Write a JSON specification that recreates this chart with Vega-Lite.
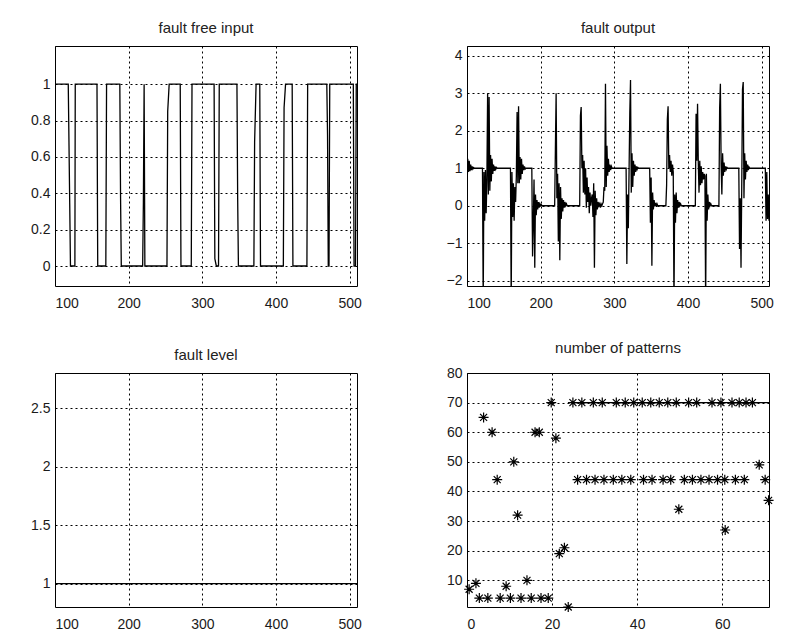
{
  "$schema": "https://vega.github.io/schema/vega-lite/v6.json",
  "background": "white",
  "padding": {"left": 30, "top": 20, "right": 5, "bottom": 5},
  "bounds": "flush",
  "columns": 2,
  "spacing": {"row": 87, "column": 110},
  "config": {
    "view": {"stroke": "black", "strokeWidth": 1},
    "font": "Liberation Sans",
    "axis": {
      "domain": false,
      "grid": true,
      "gridColor": "black",
      "gridDash": [2, 3],
      "gridOpacity": 1,
      "gridWidth": 1,
      "ticks": false,
      "labelFont": "Liberation Sans",
      "labelFontSize": 14,
      "labelColor": "#1a1a1a",
      "title": null
    },
    "axisX": {"labelPadding": 10},
    "axisY": {"labelPadding": 5},
    "title": {"font": "Liberation Sans", "fontSize": 15, "fontWeight": "normal", "color": "#222", "offset": 10}
  },
  "concat": [
    {
      "title": "fault free input",
      "width": 302,
      "height": 240,
      "data": {"values": [
        {"x":100,"y":1},{"x":118,"y":1},{"x":120,"y":0.34},{"x":121,"y":0},{"x":127,"y":0},{"x":127.5,"y":1},
        {"x":157,"y":1},{"x":158,"y":0},{"x":169,"y":0},{"x":170,"y":1},{"x":188,"y":1},{"x":189,"y":0.38},{"x":190,"y":0},
        {"x":219,"y":0},{"x":220,"y":0.35},{"x":221,"y":1},{"x":222,"y":0},{"x":252,"y":0},{"x":253,"y":0.85},{"x":255,"y":1},
        {"x":270,"y":1},{"x":271,"y":0},{"x":285,"y":0},{"x":286,"y":1},{"x":316,"y":1},{"x":317,"y":0.04},{"x":319,"y":0},
        {"x":322,"y":0},{"x":323,"y":1},{"x":347,"y":1},{"x":348,"y":0.37},{"x":349,"y":0},{"x":370,"y":0},{"x":371,"y":0.68},
        {"x":373,"y":1},{"x":378,"y":1},{"x":379,"y":0},{"x":410,"y":0},{"x":411,"y":0.87},{"x":413,"y":1},{"x":422,"y":1},
        {"x":423,"y":0},{"x":442,"y":0},{"x":443,"y":1},{"x":469,"y":1},{"x":470,"y":0.72},{"x":471,"y":0},{"x":472,"y":0},
        {"x":473,"y":1},{"x":505,"y":1},{"x":506,"y":0},{"x":508,"y":0},{"x":509,"y":1},{"x":510,"y":1}
      ]},
      "mark": {"type": "line", "color": "black", "strokeWidth": 1.3, "clip": true},
      "encoding": {
        "x": {"field": "x", "type": "quantitative", "scale": {"domain": [100, 510], "nice": false, "zero": false},
              "axis": {"values": [100, 200, 300, 400, 500]}},
        "y": {"field": "y", "type": "quantitative", "scale": {"domain": [-0.11, 1.21], "nice": false, "zero": false},
              "axis": {"values": [0, 0.2, 0.4, 0.6, 0.8, 1], "format": "~g"}}
      }
    },
    {
      "title": "fault output",
      "width": 302,
      "height": 240,
      "data": {"values": [
        {"x":100,"y":0.4},{"x":101,"y":1.25},{"x":102,"y":0.9},{"x":103,"y":1.2},{"x":104,"y":0.92},{"x":105,"y":1.1},{"x":106,"y":0.95},{"x":107,"y":1.05},{"x":108,"y":0.98},{"x":109,"y":1.02},{"x":110,"y":1},{"x":121,"y":1},
        {"x":122,"y":-2.6},{"x":123,"y":0.9},{"x":124,"y":-0.4},{"x":125,"y":0.95},{"x":126,"y":-0.2},{"x":127,"y":0.7},{"x":128,"y":3.0},{"x":129,"y":0.3},{"x":130,"y":2.9},{"x":131,"y":0.4},{"x":132,"y":1.35},{"x":133,"y":0.65},{"x":134,"y":1.25},{"x":135,"y":0.85},{"x":136,"y":1.1},{"x":137,"y":0.93},{"x":138,"y":1.05},{"x":139,"y":0.97},{"x":140,"y":1.02},{"x":141,"y":1},{"x":159,"y":1},
        {"x":160,"y":-2.6},{"x":161,"y":0.9},{"x":162,"y":-0.3},{"x":163,"y":0.6},{"x":164,"y":-0.4},{"x":165,"y":0.5},{"x":166,"y":0.1},{"x":167,"y":0.8},{"x":168,"y":2.5},{"x":169,"y":0.6},{"x":170,"y":2.65},{"x":171,"y":0.6},{"x":172,"y":1.3},{"x":173,"y":0.7},{"x":174,"y":1.25},{"x":175,"y":0.85},{"x":176,"y":1.1},{"x":177,"y":0.95},{"x":178,"y":1.05},{"x":179,"y":0.98},{"x":180,"y":1},{"x":187,"y":1},
        {"x":188,"y":1},{"x":189,"y":-1.35},{"x":190,"y":-0.5},{"x":191,"y":0.7},{"x":192,"y":-1.65},{"x":193,"y":0.3},{"x":194,"y":-0.25},{"x":195,"y":0.15},{"x":196,"y":-0.1},{"x":197,"y":0.1},{"x":198,"y":-0.05},{"x":199,"y":0.05},{"x":200,"y":0},{"x":201,"y":0.03},{"x":202,"y":0},{"x":219,"y":0},
        {"x":220,"y":1.5},{"x":221,"y":3.0},{"x":222,"y":0.2},{"x":223,"y":0.85},{"x":224,"y":-0.95},{"x":225,"y":0.6},{"x":226,"y":-1.45},{"x":227,"y":0.5},{"x":228,"y":-0.35},{"x":229,"y":0.2},{"x":230,"y":-0.15},{"x":231,"y":0.15},{"x":232,"y":-0.05},{"x":233,"y":0.1},{"x":234,"y":0},{"x":235,"y":0.05},{"x":236,"y":0},{"x":253,"y":0},
        {"x":254,"y":2.4},{"x":255,"y":2.63},{"x":256,"y":1.0},{"x":257,"y":1.35},{"x":258,"y":0.35},{"x":259,"y":1.2},{"x":260,"y":0.3},{"x":261,"y":1.0},{"x":262,"y":-0.05},{"x":263,"y":0.75},{"x":264,"y":0.1},{"x":265,"y":0.5},{"x":266,"y":-0.2},{"x":267,"y":0.35},{"x":268,"y":0},{"x":269,"y":0.2},{"x":270,"y":0.3},{"x":271,"y":-0.3},{"x":272,"y":0.6},{"x":273,"y":-1.65},{"x":274,"y":0.4},{"x":275,"y":-0.25},{"x":276,"y":0.2},{"x":277,"y":-0.1},{"x":278,"y":0.1},{"x":279,"y":0},{"x":280,"y":0.05},{"x":281,"y":-0.05},{"x":282,"y":0.05},{"x":283,"y":0},{"x":284,"y":0.05},{"x":285,"y":0.1},{"x":286,"y":0.5},{"x":287,"y":0.4},{"x":288,"y":3.25},{"x":289,"y":0.5},{"x":290,"y":1.6},{"x":291,"y":0.8},{"x":292,"y":1.25},{"x":293,"y":0.9},{"x":294,"y":1.1},{"x":295,"y":0.95},{"x":296,"y":1.05},{"x":297,"y":1},{"x":316,"y":1},
        {"x":317,"y":-1.55},{"x":318,"y":0.3},{"x":319,"y":-0.6},{"x":320,"y":0.9},{"x":321,"y":2.45},{"x":322,"y":3.35},{"x":323,"y":0.35},{"x":324,"y":1.4},{"x":325,"y":0.5},{"x":326,"y":1.2},{"x":327,"y":0.8},{"x":328,"y":1.1},{"x":329,"y":0.9},{"x":330,"y":1.05},{"x":331,"y":0.97},{"x":332,"y":1.02},{"x":333,"y":1},{"x":348,"y":1},
        {"x":349,"y":-0.45},{"x":350,"y":0.75},{"x":351,"y":-1.6},{"x":352,"y":0.35},{"x":353,"y":-0.1},{"x":354,"y":0.15},{"x":355,"y":0},{"x":356,"y":0.08},{"x":357,"y":-0.03},{"x":358,"y":0.05},{"x":359,"y":0},{"x":370,"y":0},
        {"x":371,"y":0.55},{"x":372,"y":2.3},{"x":373,"y":2.65},{"x":374,"y":1.0},{"x":375,"y":1.35},{"x":376,"y":0.9},{"x":377,"y":1.2},{"x":378,"y":0.8},{"x":379,"y":1.1},{"x":380,"y":0.9},{"x":381,"y":-2.6},{"x":382,"y":0.3},{"x":383,"y":-0.45},{"x":384,"y":0.35},{"x":385,"y":-0.2},{"x":386,"y":0.15},{"x":387,"y":-0.05},{"x":388,"y":0.1},{"x":389,"y":0},{"x":390,"y":0.05},{"x":391,"y":0},{"x":410,"y":0},
        {"x":411,"y":2.45},{"x":412,"y":1.2},{"x":413,"y":2.72},{"x":414,"y":1.15},{"x":415,"y":0.35},{"x":416,"y":1.2},{"x":417,"y":0.55},{"x":418,"y":1.05},{"x":419,"y":0.6},{"x":420,"y":0.9},{"x":421,"y":0.7},{"x":422,"y":0.85},{"x":423,"y":0.8},{"x":424,"y":-2.6},{"x":425,"y":0.85},{"x":426,"y":-0.4},{"x":427,"y":0.3},{"x":428,"y":-0.1},{"x":429,"y":0.1},{"x":430,"y":0},{"x":431,"y":0.05},{"x":432,"y":0},{"x":442,"y":0},
        {"x":443,"y":2.6},{"x":444,"y":3.25},{"x":445,"y":1.1},{"x":446,"y":0.3},{"x":447,"y":1.4},{"x":448,"y":0.8},{"x":449,"y":1.15},{"x":450,"y":0.9},{"x":451,"y":1.05},{"x":452,"y":0.97},{"x":453,"y":1.02},{"x":454,"y":1},{"x":469,"y":1},
        {"x":470,"y":-1.15},{"x":471,"y":0.2},{"x":472,"y":-1.65},{"x":473,"y":0.5},{"x":474,"y":3.1},{"x":475,"y":3.3},{"x":476,"y":0.2},{"x":477,"y":1.4},{"x":478,"y":0.7},{"x":479,"y":1.2},{"x":480,"y":0.9},{"x":481,"y":1.1},{"x":482,"y":0.95},{"x":483,"y":1.03},{"x":484,"y":1},{"x":505,"y":1},
        {"x":506,"y":-0.4},{"x":507,"y":0.9},{"x":508,"y":-0.35},{"x":509,"y":0.3},{"x":510,"y":-0.4}
      ]},
      "mark": {"type": "line", "color": "black", "strokeWidth": 1.3, "clip": true},
      "encoding": {
        "x": {"field": "x", "type": "quantitative", "scale": {"domain": [100, 510], "nice": false, "zero": false},
              "axis": {"values": [100, 200, 300, 400, 500]}},
        "y": {"field": "y", "type": "quantitative", "scale": {"domain": [-2.14, 4.26], "nice": false, "zero": false},
              "axis": {"values": [-2, -1, 0, 1, 2, 3, 4], "format": "~g"}}
      }
    },
    {
      "title": "fault level",
      "width": 302,
      "height": 234,
      "data": {"values": [{"x": 100, "y": 1}, {"x": 510, "y": 1}]},
      "mark": {"type": "line", "color": "black", "strokeWidth": 1.3, "clip": true},
      "encoding": {
        "x": {"field": "x", "type": "quantitative", "scale": {"domain": [100, 510], "nice": false, "zero": false},
              "axis": {"values": [100, 200, 300, 400, 500]}},
        "y": {"field": "y", "type": "quantitative", "scale": {"domain": [0.8, 2.8], "nice": false, "zero": false},
              "axis": {"values": [1, 1.5, 2, 2.5], "format": "~g"}}
      }
    },
    {
      "title": "number of patterns",
      "width": 302,
      "height": 234,
      "layer": [
        {
          "data": {"values": [{"x": 24.5, "y": 70}, {"x": 71, "y": 70}]},
          "mark": {"type": "line", "color": "black", "strokeWidth": 1.3, "clip": true},
          "encoding": {
            "x": {"field": "x", "type": "quantitative"},
            "y": {"field": "y", "type": "quantitative"}
          }
        },
        {
          "data": {"values": [
            {"x":0.5,"y":7},{"x":2.1,"y":9},{"x":2.9,"y":4},{"x":3.9,"y":65},{"x":4.9,"y":4},{"x":5.9,"y":60},{"x":7.1,"y":44},
            {"x":7.8,"y":4},{"x":9.2,"y":8},{"x":10.2,"y":4},{"x":11,"y":50},{"x":11.9,"y":32},{"x":12.7,"y":4},{"x":14.1,"y":10},
            {"x":15.1,"y":4},{"x":16,"y":60},{"x":17,"y":60},{"x":17.4,"y":4},{"x":19.1,"y":4},{"x":19.8,"y":70},{"x":20.9,"y":58},
            {"x":21.7,"y":19},{"x":22.9,"y":21},{"x":23.8,"y":1},
            {"x":24.9,"y":70},{"x":27.0,"y":70},{"x":29.7,"y":70},{"x":31.8,"y":70},{"x":35.1,"y":70},{"x":37.2,"y":70},{"x":39.2,"y":70},
            {"x":41.2,"y":70},{"x":43.2,"y":70},{"x":45.2,"y":70},{"x":47.2,"y":70},{"x":49.2,"y":70},{"x":52.1,"y":70},{"x":54.0,"y":70},
            {"x":57.6,"y":70},{"x":59.7,"y":70},{"x":62.3,"y":70},{"x":64.0,"y":70},{"x":65.6,"y":70},{"x":67.1,"y":70},
            {"x":26.0,"y":44},{"x":28.1,"y":44},{"x":30.1,"y":44},{"x":32.2,"y":44},{"x":34.4,"y":44},{"x":36.4,"y":44},{"x":38.5,"y":44},
            {"x":41.5,"y":44},{"x":43.5,"y":44},{"x":46.1,"y":44},{"x":47.9,"y":44},{"x":51.1,"y":44},{"x":53.0,"y":44},{"x":55.0,"y":44},
            {"x":56.9,"y":44},{"x":58.9,"y":44},{"x":60.6,"y":44},{"x":63.1,"y":44},{"x":65.2,"y":44},{"x":70.1,"y":44},
            {"x":49.8,"y":34},{"x":60.7,"y":27},{"x":68.7,"y":49},{"x":70.9,"y":37}
          ]},
          "mark": {"type": "point", "shape": "M-1,0L1,0M0,-1L0,1M-0.7,-0.7L0.7,0.7M-0.7,0.7L0.7,-0.7", "size": 100, "filled": false, "color": "black", "strokeWidth": 1.2, "opacity": 1},
          "encoding": {
            "x": {"field": "x", "type": "quantitative"},
            "y": {"field": "y", "type": "quantitative"}
          }
        }
      ],
      "encoding": {
        "x": {"scale": {"domain": [0, 71], "nice": false, "zero": false}, "axis": {"values": [0, 20, 40, 60]}},
        "y": {"scale": {"domain": [1, 80], "nice": false, "zero": false}, "axis": {"values": [10, 20, 30, 40, 50, 60, 70, 80], "format": "d"}}
      }
    }
  ]
}
